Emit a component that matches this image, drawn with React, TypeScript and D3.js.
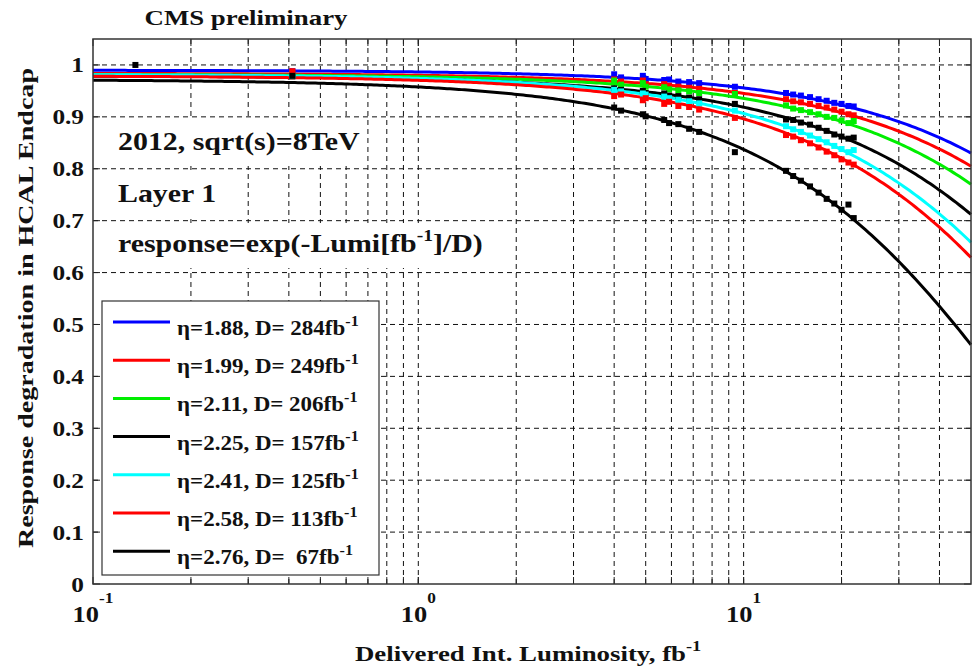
import React from "react";
import * as d3 from "d3";

const W = 978;
const H = 668;

// ---- data ----
const seriesEta = ["1.88", "1.99", "2.11", "2.25", "2.41", "2.58", "2.76"];
const seriesD = [284, 249, 206, 157, 125, 113, 67];
const seriesAmp = [0.99, 0.984, 0.982, 0.979, 0.982, 0.979, 0.972];
const seriesColor = ["#0000ff", "#ff0000", "#00ee00", "#000000", "#00ffff", "#ff0000", "#000000"];

const lumi = [0.135, 0.41, 4.0, 4.2, 4.9, 5.0, 5.7, 5.9, 6.3, 6.8, 7.3, 9.4, 13.5, 14.2, 15.0, 16.0, 17.0, 18.0, 19.0, 20.0, 21.0, 21.8];
const respBlue = [null, 0.988, 0.982, 0.976, 0.979, 0.973, 0.971, 0.972, 0.968, 0.967, 0.965, 0.958, 0.946, 0.943, 0.941, 0.938, 0.934, 0.931, 0.927, 0.925, 0.921, 0.920];
const respRed1 = [null, 0.985, 0.972, 0.968, 0.970, 0.963, 0.963, 0.960, 0.958, 0.956, 0.954, 0.946, 0.934, 0.930, 0.928, 0.925, 0.921, 0.918, 0.914, 0.910, 0.905, 0.903];
const respGreen = [null, 0.981, 0.970, 0.962, 0.965, 0.958, 0.957, 0.953, 0.951, 0.949, 0.946, 0.944, 0.922, 0.916, 0.913, 0.909, 0.905, 0.900, 0.898, 0.893, 0.888, 0.892];
const respBlack1 = [null, 0.978, 0.955, 0.952, 0.950, 0.946, 0.945, 0.941, 0.940, 0.937, 0.934, 0.925, 0.895, 0.894, 0.889, 0.885, 0.879, 0.873, 0.866, 0.862, 0.858, 0.860];
const respCyan = [null, 0.979, 0.952, 0.949, 0.945, 0.943, 0.939, 0.936, 0.933, 0.930, 0.926, 0.912, 0.882, 0.876, 0.871, 0.864, 0.857, 0.851, 0.844, 0.838, 0.832, 0.836];
const respRed2 = [null, 0.988, 0.940, 0.943, 0.932, 0.936, 0.925, 0.929, 0.921, 0.919, 0.914, 0.898, 0.865, 0.862, 0.855, 0.849, 0.841, 0.833, 0.826, 0.818, 0.812, 0.808];
const respBlack2 = [1.0, 0.979, 0.918, 0.912, 0.905, 0.901, 0.894, 0.888, 0.886, 0.877, 0.871, 0.832, 0.796, 0.786, 0.777, 0.766, 0.754, 0.742, 0.733, 0.721, 0.731, 0.705];
const measured = [respBlue, respRed1, respGreen, respBlack1, respCyan, respRed2, respBlack2];

const yTicks = [0, 0.1, 0.2, 0.3, 0.4, 0.5, 0.6, 0.7, 0.8, 0.9, 1];
const yTickLabels = ["0", "0.1", "0.2", "0.3", "0.4", "0.5", "0.6", "0.7", "0.8", "0.9", "1"];
const xMajor = [0.1, 1, 10];
const xMajorExp = ["-1", "0", "1"];

// ---- layout ----
const L = 93, R = 971, T = 39, B = 584;
const FONT = "'Liberation Serif', 'Times New Roman', serif";
const SX = 1.15;

export default function App() {
  const x = d3.scaleLog().domain([0.1, 50]).range([L, R]);
  const y = d3.scaleLinear().domain([0, 1.05]).range([B, T]);

  const minorX: number[] = [];
  for (const dec of [0.1, 1, 10]) {
    for (let k = 1; k <= 9; k++) {
      const v = dec * k;
      if (v > 0.1 && v < 50) minorX.push(v);
    }
  }

  const sampleL = d3.range(0, 301).map((i) => 0.1 * Math.pow(500, i / 300));
  const line = d3
    .line<[number, number]>()
    .x((d) => x(d[0]))
    .y((d) => y(d[1]));

  const T_ = (props: {
    x: number; y: number; size: number; anchor?: string; children: React.ReactNode; sx?: number;
  }) => (
    <text
      transform={`translate(${props.x},${props.y}) scale(${props.sx ?? SX},1)`}
      fontSize={props.size}
      fontWeight="bold"
      fontFamily={FONT}
      textAnchor={props.anchor ?? "start"}
      fill="#111"
    >
      {props.children}
    </text>
  );

  const legY0 = 322;
  const legDy = 38.2;

  return (
    <svg width={W} height={H} style={{ position: "absolute", left: 0, top: 0, background: "#fff" }}>
      <rect x={0} y={0} width={W} height={H} fill="#fff" />
      {/* grid */}
      <g stroke="#111" strokeWidth={1} strokeDasharray="5,4" fill="none">
        {yTicks.slice(1).map((v, i) => (
          <line key={"gy" + i} x1={L} x2={R} y1={y(v)} y2={y(v)} />
        ))}
        {minorX.map((v, i) => (
          <line key={"gx" + i} x1={x(v)} x2={x(v)} y1={T} y2={B} />
        ))}
      </g>

      {/* annotation background boxes */}
      <rect x={L + 1} y={120} width={272} height={46} fill="#fff" />
      <rect x={L + 1} y={171} width={150} height={46} fill="#fff" />
      <rect x={L + 1} y={223} width={386} height={45} fill="#fff" />

      {/* fit curves */}
      <g fill="none" strokeWidth={3}>
        {seriesD.map((D, i) => (
          <path
            key={"c" + i}
            d={line(sampleL.map((l) => [l, seriesAmp[i] * Math.exp(-l / D)]))!}
            stroke={seriesColor[i]}
          />
        ))}
      </g>

      {/* measured points */}
      {measured.map((arr, si) => (
        <g key={"p" + si} fill={seriesColor[si]}>
          {arr.map((v, j) =>
            v == null ? null : (
              <rect key={j} x={x(lumi[j]) - 3} y={y(v) - 3} width={6} height={6} />
            )
          )}
        </g>
      ))}

      {/* ticks */}
      <g stroke="#222" strokeWidth={1}>
        {yTicks.map((v, i) => (
          <g key={"yt" + i}>
            <line x1={L} x2={L + 7} y1={y(v)} y2={y(v)} />
            <line x1={R} x2={R - 7} y1={y(v)} y2={y(v)} />
          </g>
        ))}
        {[...minorX, ...xMajor].map((v, i) => (
          <g key={"xt" + i}>
            <line x1={x(v)} x2={x(v)} y1={B} y2={B - 7} />
            <line x1={x(v)} x2={x(v)} y1={T} y2={T + 7} />
          </g>
        ))}
      </g>

      {/* legend */}
      <rect x={102} y={301} width={277} height={274} fill="#fff" stroke="#333" strokeWidth={1.2} />
      {seriesEta.map((eta, i) => {
        const ly = legY0 + i * legDy;
        const dTxt = seriesD[i] < 100 ? "\u00a0\u00a0" + seriesD[i] : "\u00a0" + seriesD[i];
        return (
          <g key={"lg" + i}>
            <line x1={113} x2={170} y1={ly} y2={ly} stroke={seriesColor[i]} strokeWidth={3} />
            <T_ x={177} y={ly + 13} size={20} sx={1.15}>
              {`η=${eta}, D=${dTxt}fb`}
              <tspan dy={-9} fontSize={14}>-1</tspan>
            </T_>
          </g>
        );
      })}

      {/* axes box */}
      <rect x={L} y={T} width={R - L} height={B - T} fill="none" stroke="#333" strokeWidth={1.5} />

      {/* y tick labels */}
      {yTicks.map((v, i) => (
        <T_ key={"yl" + i} x={84} y={y(v) + 7.5} size={22} anchor="end">
          {yTickLabels[i]}
        </T_>
      ))}

      {/* x tick labels */}
      {xMajor.map((v, i) => (
        <T_ key={"xl" + i} x={x(v)} y={622} size={23} anchor="middle">
          10
          <tspan dy={-19} fontSize={15}>{xMajorExp[i]}</tspan>
        </T_>
      ))}

      {/* titles */}
      <text x={246} y={25} fontSize={22} fontWeight="bold" fontFamily={FONT} textAnchor="middle"
        textLength={203} lengthAdjust="spacingAndGlyphs" fill="#111">CMS preliminary</text>
      <text transform="translate(33,308) rotate(-90)" fontSize={22} fontWeight="bold" fontFamily={FONT}
        textAnchor="middle" textLength={480} lengthAdjust="spacingAndGlyphs" fill="#111">
        Response degradation in HCAL Endcap
      </text>
      <T_ x={355} y={661} size={22} sx={1.22}>
        Delivered Int. Luminosity, fb
        <tspan dy={-10} fontSize={15}>-1</tspan>
      </T_>

      {/* annotations */}
      <T_ x={118} y={150} size={26}>2012, sqrt(s)=8TeV</T_>
      <T_ x={118} y={202} size={26}>Layer 1</T_>
      <T_ x={118} y={252} size={26}>
        response=exp(-Lumi[fb
        <tspan dy={-11} fontSize={17}>-1</tspan>
        <tspan dy={11}>]/D)</tspan>
      </T_>
    </svg>
  );
}
